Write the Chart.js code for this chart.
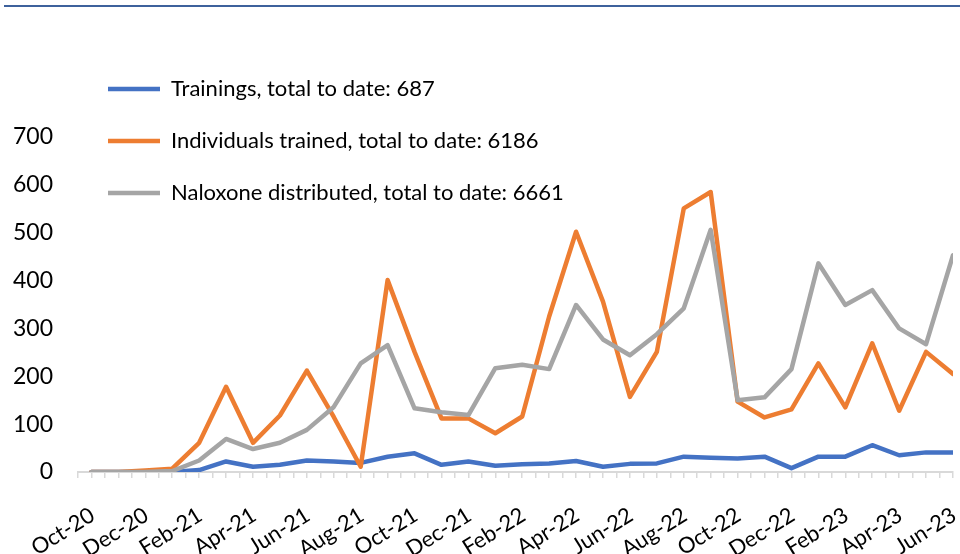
<!DOCTYPE html>
<html>
<head>
<meta charset="utf-8">
<script src="https://cdn.jsdelivr.net/npm/chart.js@4.4.1/dist/chart.umd.min.js"></script>
<style>
  html, body { margin: 0; padding: 0; background: #fff; }
  #wrap { position: relative; width: 960px; height: 554px; }
  #rule { position: absolute; left: 4px; top: 5px; width: 956px; height: 2px; background: #3d619c; }
  #chart { position: absolute; left: 0; top: 0; }
</style>
</head>
<body>
<div id="wrap">
  <div id="rule"></div>
  <canvas id="chart" width="960" height="554"></canvas>
</div>
<script>
// ---------- DATA ----------
const months = [
  "Oct-20", "Nov-20", "Dec-20", "Jan-21", "Feb-21", "Mar-21", "Apr-21", "May-21",
  "Jun-21", "Jul-21", "Aug-21", "Sep-21", "Oct-21", "Nov-21", "Dec-21", "Jan-22",
  "Feb-22", "Mar-22", "Apr-22", "May-22", "Jun-22", "Jul-22", "Aug-22", "Sep-22",
  "Oct-22", "Nov-22", "Dec-22", "Jan-23", "Feb-23", "Mar-23", "Apr-23", "May-23", "Jun-23"
];
const trainings = [
  0, 0, 0, 0, 4, 22, 11, 15, 24, 22, 19, 32, 39, 15, 22, 13,
  16, 18, 23, 11, 17, 18, 32, 30, 28, 32, 8, 32, 32, 56, 35, 41, 41
];
const trained = [
  0, 0, 3, 7, 61, 178, 61, 118, 212, 115, 11, 401, 251, 112, 112, 81,
  116, 325, 502, 356, 157, 251, 551, 585, 147, 114, 131, 227, 135, 269, 128, 251, 205
];
const naloxone = [
  0, 0, 0, 2, 24, 69, 48, 61, 88, 136, 227, 265, 133, 125, 119, 217,
  224, 215, 349, 277, 244, 288, 342, 506, 150, 156, 215, 436, 349, 380, 300, 267, 453
];
const seriesNames = [
  "Trainings, total to date: 687",
  "Individuals trained, total to date: 6186",
  "Naloxone distributed, total to date: 6661"
];
const yMax = 700;

// ---------- HELPERS ----------
const pts = arr => arr.map((v, i) => ({ x: i, y: v }));
const line = (label, data, color, order) => ({
  label, data: pts(data), borderColor: color, backgroundColor: color,
  borderWidth: 4.5, pointRadius: 0, tension: 0, order,
  borderCapStyle: "round", borderJoinStyle: "round"
});

Chart.defaults.font.family = "Lato, 'Open Sans', sans-serif";
Chart.defaults.color = "#000";

new Chart(document.getElementById("chart"), {
  type: "line",
  data: {
    datasets: [
      line(seriesNames[0], trainings, "#4472C4", 3),
      line(seriesNames[1], trained, "#ED7D31", 2),
      line(seriesNames[2], naloxone, "#A5A5A5", 1)
    ]
  },
  options: {
    responsive: false,
    animation: false,
    layout: { padding: { left: 11, right: 7, top: 137, bottom: 0 } },
    plugins: {
      tooltip: { enabled: false },
      legend: {
        position: "chartArea",
        align: "start",
        // empty title only pushes the legend rows down
        title: { display: true, text: " ", padding: 0, font: { size: 40 } },
        labels: {
          usePointStyle: true,
          pointStyle: "line",
          pointStyleWidth: 52,
          padding: 30,
          font: { size: 22 },
          color: "#000",
          sort: (a, b) => a.datasetIndex - b.datasetIndex
        }
      }
    },
    scales: {
      x: {
        type: "linear",
        min: -0.5,
        max: months.length - 1,
        border: { display: true, color: "#d9d9d9", width: 2 },
        grid: { drawOnChartArea: false, drawTicks: true, tickLength: 6, color: "#d9d9d9", lineWidth: 1.5 },
        afterFit: s => { s.paddingLeft = 0; s.paddingRight = 0; s.height = 82; },
        ticks: {
          stepSize: 0.5,
          autoSkip: false,
          minRotation: 32,
          maxRotation: 32,
          padding: 24,
          labelOffset: 1,
          font: { size: 22 },
          callback: v => (Number.isInteger(v) && v % 2 === 0) ? months[v] : ""
        }
      },
      y: {
        min: 0,
        max: yMax,
        border: { display: false },
        grid: { display: false, drawTicks: false },
        afterFit: s => { s.width = 67; },
        ticks: { stepSize: 100, padding: 25, font: { size: 23 } }
      }
    }
  }
});
</script>
</body>
</html>
